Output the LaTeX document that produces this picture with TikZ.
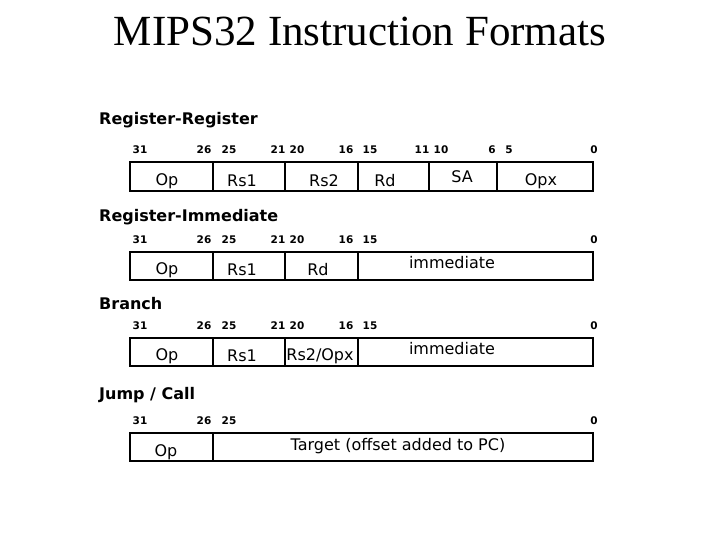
\documentclass[tikz,border=0pt]{standalone}
\usepackage{fontspec}
\setmainfont{Liberation Serif}
\newfontfamily\cf{DejaVu Sans}
\begin{document}
\begin{tikzpicture}[x=1pt,y=-1pt,
  lab/.style={font=\cf\fontsize{16}{16}\selectfont},
  ttl/.style={anchor=west,inner sep=0pt,font=\cf\bfseries\fontsize{16}{16}\selectfont},
  bit/.style={font=\cf\bfseries\fontsize{10.5}{10.5}\selectfont},
  box/.style={line width=2pt}]
\useasboundingbox (0,0) rectangle (720,540);
\node (title) at (360,31) {\fontsize{43}{43}\selectfont MIPS32 Instruction Formats};
% Row 1
\node[ttl] (t1) at (99,120) {Register-Register};
\foreach \n/\x/\l in {a/140/31,b/204/26,c/229/25,d/278/21,e/297/20,f/346/16,g/370/15,h/422/11,i/441/10,j/492/6,k/509/5,l/594/0}
  \node[bit] (r1\n) at (\x,150) {\l};
\draw[box] (130,162) rectangle (593,191);
\foreach \x in {213,285,358,429,497} \draw[box] (\x,162) -- (\x,191);
\foreach \n/\x/\y/\l in {op/167/181/Op,rs/242/181/Rs1,rt/324/181/Rs2,rd/385/181/Rd,sa/462/177/SA,ox/541/181/Opx}
  \node[lab] (f1\n) at (\x,\y) {\l};
% Row 2
\node[ttl] (t2) at (99,217) {Register-Immediate};
\foreach \n/\x/\l in {a/140/31,b/204/26,c/229/25,d/278/21,e/297/20,f/346/16,g/370/15,l/594/0}
  \node[bit] (r2\n) at (\x,240) {\l};
\draw[box] (130,252) rectangle (593,280);
\foreach \x in {213,285,358} \draw[box] (\x,252) -- (\x,280);
\foreach \n/\x/\y/\l in {op/167/270/Op,rs/242/270/Rs1,rd/318/270/Rd,im/452/263/immediate}
  \node[lab] (f2\n) at (\x,\y) {\l};
% Row 3
\node[ttl] (t3) at (99,304) {Branch};
\foreach \n/\x/\l in {a/140/31,b/204/26,c/229/25,d/278/21,e/297/20,f/346/16,g/370/15,l/594/0}
  \node[bit] (r3\n) at (\x,326) {\l};
\draw[box] (130,338) rectangle (593,366);
\foreach \x in {213,285,358} \draw[box] (\x,338) -- (\x,366);
\foreach \n/\x/\y/\l in {op/167/356/Op,rs/242/356/Rs1,rt/320/356/{Rs2/Opx},im/452/349/immediate}
  \node[lab] (f3\n) at (\x,\y) {\l};
% Row 4
\node[ttl] (t4) at (99,395) {Jump / Call};
\foreach \n/\x/\l in {a/140/31,b/204/26,c/229/25,l/594/0}
  \node[bit] (r4\n) at (\x,421) {\l};
\draw[box] (130,433) rectangle (593,461);
\draw[box] (213,433) -- (213,461);
\node[lab] (f4op) at (166,452) {Op};
\node[lab] (f4tg) at (398,446) {Target (offset added to PC)};
\end{tikzpicture}
\end{document}
